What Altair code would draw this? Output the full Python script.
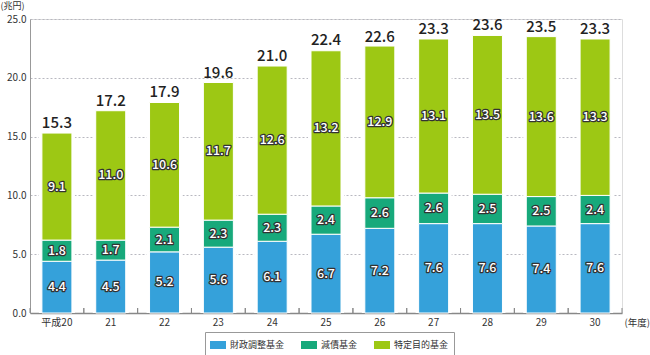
import altair as alt
import pandas as pd

years = ["平成20", "21", "22", "23", "24", "25", "26", "27", "28", "29", "30"]
series = ["財政調整基金", "減債基金", "特定目的基金"]
fiscal = [4.4, 4.5, 5.2, 5.6, 6.1, 6.7, 7.2, 7.6, 7.6, 7.4, 7.6]
debt = [1.8, 1.7, 2.1, 2.3, 2.3, 2.4, 2.6, 2.6, 2.5, 2.5, 2.4]
special = [9.1, 11.0, 10.6, 11.7, 12.6, 13.2, 12.9, 13.1, 13.5, 13.6, 13.3]
totals = [15.3, 17.2, 17.9, 19.6, 21.0, 22.4, 22.6, 23.3, 23.6, 23.5, 23.3]
colors = ["#35a1da", "#17a97b", "#9dc814"]

rows = []
for i, yr in enumerate(years):
    for j, vals in enumerate([fiscal, debt, special]):
        rows.append({"year": yr, "series": series[j], "idx": j, "value": vals[i]})
df = pd.DataFrame(rows)
tot = pd.DataFrame({"year": years, "total": totals})

FONT = "Noto Sans CJK JP"
W, H = 592, 294

xenc = alt.X(
    "year:N", sort=years,
    scale=alt.Scale(paddingInner=0, paddingOuter=0),
    axis=alt.Axis(
        title="(年度)", titleX=594, titleY=9, titleAlign="left", titleBaseline="middle",
        titleFontSize=9.5, titleFontWeight="normal", titleColor="#333",
        labelAngle=0, labelFontSize=10, labelColor="#333", labelPadding=4,
        ticks=False, domainColor="#888", domainWidth=1.5,
    ),
)
yscale = alt.Scale(domain=[0, 25], nice=False)
yaxis = alt.Axis(
    values=[0, 5, 10, 15, 20, 25], format=".1f", title="(兆円)", titleAngle=0,
    titleX=-30, titleY=-11, titleAlign="left", titleBaseline="alphabetic",
    titleFontSize=9, titleFontWeight="normal", titleColor="#333",
    labelFontSize=10, labelColor="#333", labelPadding=4, ticks=False,
    domainColor="#999", grid=True, gridColor="#b8b8c0", gridDash=[2, 2], gridWidth=1,
)

base = alt.Chart(df)

white_bg = alt.Chart(tot).mark_bar(size=36, color="white").encode(
    x=xenc, y=alt.Y("total:Q", scale=yscale, axis=yaxis)
)

bars = base.mark_bar(size=30, stroke="white", strokeWidth=1).encode(
    x=alt.X("year:N", sort=years),
    y=alt.Y("value:Q", stack="zero", scale=yscale),
    color=alt.Color(
        "series:N", scale=alt.Scale(domain=series, range=colors),
        legend=alt.Legend(
            title=None, orient="none", legendX=175, legendY=313, direction="horizontal",
            strokeColor="#999", padding=5, symbolType="M-1,-0.5H1V0.5H-1Z",
            symbolSize=256, symbolStrokeWidth=0, symbolOpacity=1,
            labelFontSize=9, labelColor="#333", labelFont=FONT,
            columnPadding=16, labelOffset=4,
        ),
    ),
    order=alt.Order("idx:Q", sort="ascending"),
)

stacked = base.transform_stack(
    stack="value", groupby=["year"], as_=["v0", "v1"],
    sort=[alt.SortField("idx", order="ascending")],
).transform_calculate(mid="(datum.v0 + datum.v1) / 2")

seg_outline = stacked.mark_text(
    fontSize=12.5, font=FONT, fontWeight=500, color="#333", stroke="#333",
    strokeWidth=2.5, strokeJoin="round", baseline="middle",
).encode(
    x=alt.X("year:N", sort=years), y=alt.Y("mid:Q", scale=yscale),
    text=alt.Text("value:Q", format=".1f"),
)
seg_text = stacked.mark_text(
    fontSize=12.5, font=FONT, fontWeight=500, color="white", baseline="middle",
).encode(
    x=alt.X("year:N", sort=years), y=alt.Y("mid:Q", scale=yscale),
    text=alt.Text("value:Q", format=".1f"),
)

tot_text = alt.Chart(tot).mark_text(
    fontSize=15, font=FONT, fontWeight=500, color="#222", baseline="bottom", dy=-2,
).encode(
    x=alt.X("year:N", sort=years), y=alt.Y("total:Q", scale=yscale),
    text=alt.Text("total:Q", format=".1f"),
)

ticks0 = alt.Chart(tot).mark_rule(color="#888", strokeWidth=1).encode(
    x=alt.X("year:N", sort=years, bandPosition=0),
    y=alt.value(H), y2=alt.value(H - 5),
)
ticks1 = alt.Chart(tot).mark_rule(color="#888", strokeWidth=1).encode(
    x=alt.X("year:N", sort=years, bandPosition=1),
    y=alt.value(H), y2=alt.value(H - 5),
)

chart = alt.layer(
    white_bg, bars, seg_outline, seg_text, tot_text, ticks0, ticks1
).properties(
    width=W, height=H,
    autosize=alt.AutoSizeParams(type="none"),
    padding={"left": 30, "top": 19, "right": 28, "bottom": 42},
    background="white",
).configure_view(
    fill="#f4f4f9", stroke=None,
).configure(font=FONT)

chart.save("out.html", embed_options={"renderer": "svg", "actions": False})
